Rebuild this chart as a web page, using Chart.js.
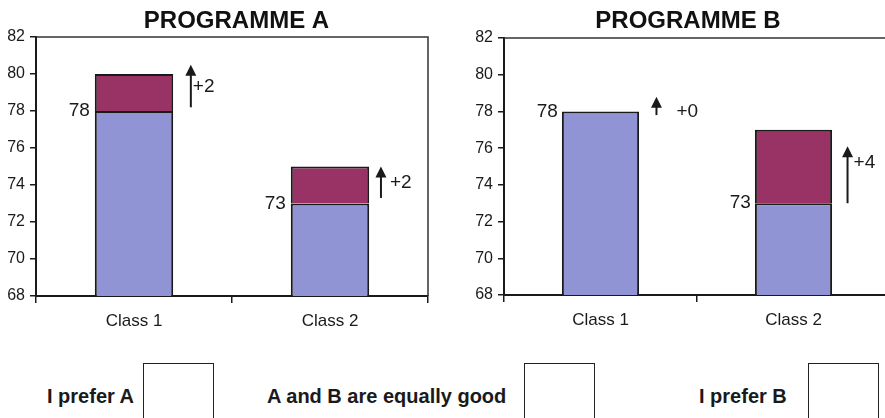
<!DOCTYPE html>
<html>
<head>
<meta charset="utf-8">
<script src="https://cdn.jsdelivr.net/npm/chart.js@4.4.1/dist/chart.umd.min.js"></script>
<style>
  html, body { margin: 0; padding: 0; background: #fff; overflow: hidden; }
  body { width: 885px; height: 418px; position: relative; font-family: "Liberation Sans", Arial, sans-serif; color: #1a1a1a; }
  .plot { position: absolute; top: 0; }
  #wrapA { left: 0; width: 473px; height: 336px; }
  #wrapB { left: 440px; width: 496px; height: 335px; }
  .choice { position: absolute; top: 386px; font-weight: bold; font-size: 20px; line-height: 20px; white-space: nowrap; }
  .box { position: absolute; top: 363px; width: 71px; height: 80px; box-sizing: border-box; border: 1.5px solid #222; }
</style>
</head>
<body>
<div class="plot" id="wrapA"><canvas id="chartA"></canvas></div>
<div class="plot" id="wrapB"><canvas id="chartB"></canvas></div>

<div class="choice" style="left:47px">I prefer A</div>
<div class="box" style="left:143px"></div>
<div class="choice" style="left:267px">A and B are equally good</div>
<div class="box" style="left:524px"></div>
<div class="choice" style="left:699px">I prefer B</div>
<div class="box" style="left:808px"></div>

<script>
const categories = ['Class 1', 'Class 2'];
const yTickValues = [68, 70, 72, 74, 76, 78, 80, 82];

const baseA = [78, 73];
const gainA = [2, 2];
const baseB = [78, 73];
const gainB = [0, 4];

// arrows next to each bar: start, tip and label height (axis values)
const arrowFromA = [78.2, 73.3];
const arrowToA = [80.5, 75.0];
const arrowLabelA = [79.3, 74.1];
const arrowFromB = [77.8, 73.0];
const arrowToB = [78.8, 76.1];
const arrowLabelB = [78.0, 75.2];

const ink = '#1a1a1a';
Chart.defaults.font.family = '"Liberation Sans", Arial, sans-serif';
Chart.defaults.color = ink;

function makeChart(id, title, base, gain, arrowFrom, arrowTo, arrowLabel, look) {
    // draws the title, the frame, the base value labels and the arrows
    let extras = {
        id: 'extras',
        afterDatasetsDraw(chart) {
            let ctx = chart.ctx;
            let area = chart.chartArea;
            let xs = chart.scales.x;
            let ys = chart.scales.y;
            let catW = xs.width / categories.length;

            ctx.save();
            ctx.fillStyle = '#111';
            ctx.font = 'bold 24px "Liberation Sans", Arial, sans-serif';
            ctx.textAlign = 'center';
            ctx.textBaseline = 'alphabetic';
            ctx.fillText(title, look.titleX, 28);

            ctx.strokeStyle = '#333';
            ctx.lineWidth = 1.5;
            ctx.beginPath();
            ctx.moveTo(area.left, area.top);
            ctx.lineTo(area.right, area.top);
            ctx.lineTo(area.right, area.bottom);
            ctx.stroke();

            let bars = chart.getDatasetMeta(0).data;
            ctx.fillStyle = ink;
            ctx.font = '19px "Liberation Sans", Arial, sans-serif';
            ctx.textBaseline = 'middle';
            for (let i = 0; i < categories.length; i++) {
                let bar = bars[i];
                ctx.textAlign = 'right';
                ctx.fillText(String(base[i]), bar.x - bar.width / 2 - look.labelGap, ys.getPixelForValue(base[i]));

                let ax = xs.getPixelForValue(i) + look.arrowShift[i] * catW;
                let y1 = ys.getPixelForValue(arrowFrom[i]);
                let y2 = ys.getPixelForValue(arrowTo[i]);
                ctx.strokeStyle = ink;
                ctx.lineWidth = 2;
                ctx.beginPath();
                ctx.moveTo(ax, y1);
                ctx.lineTo(ax, y2 + 8);
                ctx.stroke();
                ctx.beginPath();
                ctx.moveTo(ax, y2);
                ctx.lineTo(ax - 5.5, y2 + 11);
                ctx.lineTo(ax + 5.5, y2 + 11);
                ctx.closePath();
                ctx.fill();

                ctx.textAlign = 'left';
                ctx.fillText('+' + gain[i], ax + look.labelDx[i], ys.getPixelForValue(arrowLabel[i]));
            }
            ctx.restore();
        }
    };

    return new Chart(document.getElementById(id), {
        type: 'bar',
        data: {
            labels: categories,
            datasets: [{
                data: base,
                backgroundColor: '#9194d4',
                borderColor: ink,
                borderWidth: 2,
                borderSkipped: false,
                categoryPercentage: 1,
                barPercentage: 0.4
            }, {
                data: gain.map(v => v || null),
                backgroundColor: '#993366',
                borderColor: ink,
                borderWidth: 2,
                borderSkipped: 'start',
                categoryPercentage: 1,
                barPercentage: 0.4
            }]
        },
        options: {
            responsive: true,
            maintainAspectRatio: false,
            animation: false,
            layout: { padding: { left: 0, right: look.padRight, top: look.top, bottom: 0 } },
            plugins: {
                legend: { display: false },
                tooltip: { enabled: false },
                title: { display: false }
            },
            scales: {
                x: {
                    stacked: true,
                    grid: { offset: true, drawOnChartArea: false, tickLength: 7, color: ink, lineWidth: 1.5 },
                    border: { color: ink, width: 2 },
                    ticks: { font: { size: 17 }, padding: 8, color: ink },
                    afterFit: s => { s.height = 40; }
                },
                y: {
                    stacked: true,
                    min: yTickValues[0],
                    max: yTickValues[yTickValues.length - 1],
                    afterBuildTicks: s => { s.ticks = yTickValues.map(v => ({ value: v })); },
                    grid: { drawOnChartArea: false, tickLength: 6, color: ink, lineWidth: 1.5 },
                    border: { color: ink, width: 2 },
                    ticks: { font: { size: 16 }, padding: 5, color: ink },
                    afterFit: s => { s.width = look.axisX; }
                }
            }
        },
        plugins: [extras]
    });
}

makeChart('chartA', 'PROGRAMME A', baseA, gainA, arrowFromA, arrowToA, arrowLabelA, {
    axisX: 36, padRight: 45, top: 37, titleX: 236.5, labelGap: 5,
    arrowShift: [0.29, 0.26], labelDx: [2, 9]
});
makeChart('chartB', 'PROGRAMME B', baseB, gainB, arrowFromB, arrowToB, arrowLabelB, {
    axisX: 64, padRight: 46, top: 38, titleX: 248, labelGap: 4,
    arrowShift: [0.29, 0.28], labelDx: [20, 6]
});
</script>
</body>
</html>
